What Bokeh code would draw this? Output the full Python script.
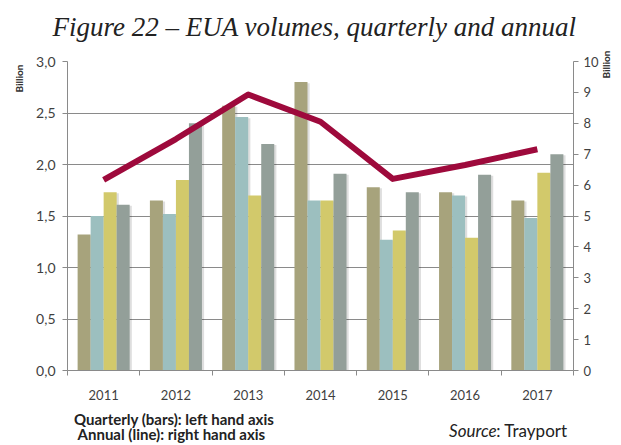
from bokeh.plotting import figure
from bokeh.models import Range1d, LinearAxis, FixedTicker, CustomJSTickFormatter
from bokeh.embed import file_html
from bokeh.resources import INLINE

years = ["2011", "2012", "2013", "2014", "2015", "2016", "2017"]
q1 = [1.32, 1.65, 2.57, 2.80, 1.78, 1.73, 1.65]
q2 = [1.50, 1.52, 2.46, 1.65, 1.27, 1.70, 1.48]
q3 = [1.73, 1.85, 1.70, 1.65, 1.36, 1.29, 1.92]
q4 = [1.61, 2.40, 2.20, 1.91, 1.73, 1.90, 2.10]
annual = [6.17, 7.49, 8.93, 8.05, 6.20, 6.65, 7.16]
left_ticks = [0.0, 0.5, 1.0, 1.5, 2.0, 2.5, 3.0]
right_ticks = list(range(0, 11))

title_text = "Figure 22 \u2013 EUA volumes, quarterly and annual"
unit_text = "Billion"
note1 = "Quarterly (bars): left hand axis"
note2 = "Annual (line): right hand axis"
src1 = "Source"
src2 = ": Trayport"

colors = ["#a7a37c", "#9cbfbf", "#d2c96b", "#939f99"]
offsets = [-0.27, -0.09, 0.09, 0.27]
bw = 0.18
GRID = "#8a8a8a"
TXT = "#3f3f3f"
FONT = "Lato"

p = figure(width=621, height=445, output_backend="svg", toolbar_location=None,
           x_range=Range1d(0, 7), y_range=Range1d(0, 3),
           min_border_left=67, min_border_right=46, min_border_top=61, min_border_bottom=73)
p.outline_line_color = None
p.xgrid.visible = False
p.ygrid.ticker = FixedTicker(ticks=left_ticks)
p.ygrid.grid_line_color = GRID
p.ygrid.grid_line_width = 1

centers = [i + 0.5 for i in range(len(years))]

for vals, off in zip([q1, q2, q3, q4], offsets):
    xs = [c + off for c in centers]
    p.vbar(x=[x + 0.03 for x in xs], top=[v - 0.01 for v in vals], bottom=0, width=bw,
           fill_color="#000000", fill_alpha=0.13, line_color=None)
for vals, off, col in zip([q1, q2, q3, q4], offsets, colors):
    xs = [c + off for c in centers]
    p.vbar(x=xs, top=vals, bottom=0, width=bw, fill_color=col, line_color=None)

p.extra_y_ranges = {"right": Range1d(0, 10)}
p.line(x=centers, y=annual, y_range_name="right", line_color="#9e0a3c", line_width=6,
       line_join="round", line_cap="butt")

xa = p.xaxis[0]
xa.ticker = FixedTicker(ticks=centers, minor_ticks=list(range(0, 8)))
xa.major_label_overrides = {c: y for c, y in zip(centers, years)}
xa.major_tick_out = 0
xa.major_tick_in = 0
xa.minor_tick_out = 5
xa.minor_tick_in = 0
xa.minor_tick_line_color = GRID
xa.axis_line_color = GRID
xa.major_label_standoff = 14
xa.major_label_text_font = FONT
xa.major_label_text_font_size = "13px"
xa.major_label_text_color = TXT

ya = p.yaxis[0]
ya.ticker = FixedTicker(ticks=left_ticks)
ya.formatter = CustomJSTickFormatter(code="return tick.toFixed(1).replace('.', ',');")
ya.major_tick_out = 5
ya.major_tick_in = 0
ya.minor_tick_out = 0
ya.minor_tick_in = 0
ya.major_tick_line_color = GRID
ya.axis_line_color = GRID
ya.major_label_standoff = 7
ya.major_label_text_font = FONT
ya.major_label_text_font_size = "14px"
ya.major_label_text_color = TXT

ra = LinearAxis(y_range_name="right", ticker=FixedTicker(ticks=right_ticks))
ra.major_tick_out = 5
ra.major_tick_in = 0
ra.minor_tick_out = 0
ra.minor_tick_in = 0
ra.major_tick_line_color = GRID
ra.axis_line_color = GRID
ra.major_label_standoff = 5
ra.major_label_text_font = FONT
ra.major_label_text_font_size = "13px"
ra.major_label_text_color = TXT
p.add_layout(ra, "right")


def text_axis(pos, text, standoff, size, style="normal", font=FONT, color="#222222",
              angle=None):
    ax = LinearAxis(ticker=FixedTicker(ticks=[pos]), major_label_overrides={pos: text})
    ax.axis_line_color = None
    ax.major_tick_line_color = None
    ax.minor_tick_line_color = None
    ax.major_tick_out = 0
    ax.major_tick_in = 0
    ax.minor_tick_out = 0
    ax.minor_tick_in = 0
    ax.major_label_standoff = standoff
    if angle is not None:
        ax.major_label_orientation = angle
    ax.major_label_text_font = font
    ax.major_label_text_font_style = style
    ax.major_label_text_font_size = size
    ax.major_label_text_color = color
    return ax


# unit labels
p.add_layout(text_axis(2.97, unit_text, 14, "10px", "bold", color="#333333", angle=1.5708), "left")
p.add_layout(text_axis(2.835, unit_text, 5, "10px", "bold", color="#333333", angle=1.5708), "right")

# title
p.add_layout(text_axis(3.417, title_text, 20, "27px", "italic", font="Liberation Serif"), "above")

# notes below the year axis
p.add_layout(text_axis(1.474, note1, 7, "15px", "bold"), "below")
p.add_layout(text_axis(5.608, src1, -11, "17px", "italic"), "below")
p.add_layout(text_axis(6.425, src2, -24, "17px"), "below")
p.add_layout(text_axis(1.437, note2, -19, "15px", "bold"), "below")

open("out.html", "w").write(file_html(p, INLINE))
